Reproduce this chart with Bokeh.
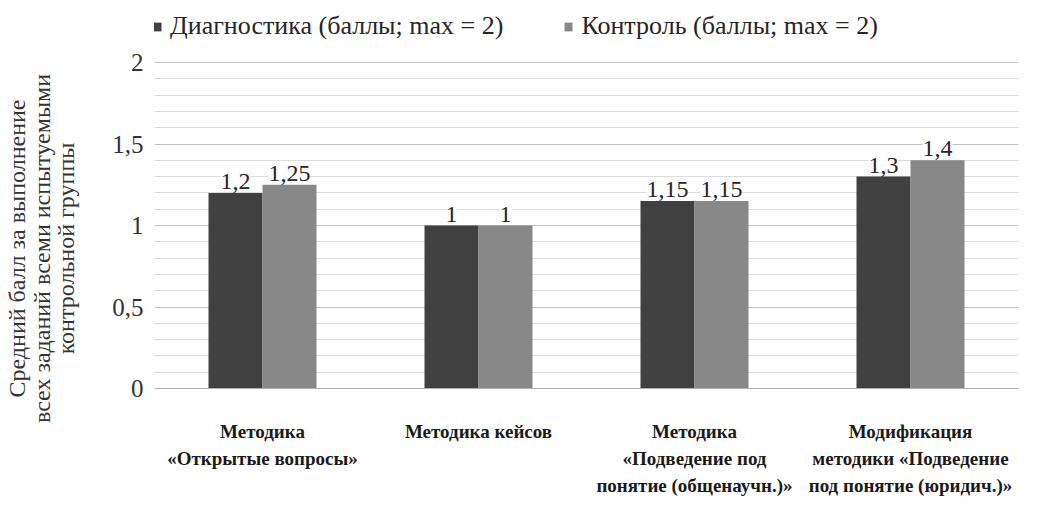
from bokeh.plotting import figure
from bokeh.models import (ColumnDataSource, Range1d, FixedTicker, LabelSet, Span,
                          Legend, LegendItem)
from bokeh.embed import file_html
from bokeh.resources import INLINE

categories = [
    "Методика\n«Открытые вопросы»",
    "Методика кейсов",
    "Методика\n«Подведение под\nпонятие (общенаучн.)»",
    "Модификация\nметодики «Подведение\nпод понятие (юридич.)»",
]
diag = [1.2, 1.0, 1.15, 1.3]
ctrl = [1.25, 1.0, 1.15, 1.4]
diag_labels = ["1,2", "1", "1,15", "1,3"]
ctrl_labels = ["1,25", "1", "1,15", "1,4"]
y_ticks = [0, 0.5, 1, 1.5, 2]
y_tick_labels = ["0", "0,5", "1", "1,5", "2"]
series_names = ["Диагностика (баллы; max = 2)", "Контроль (баллы; max = 2)"]

FONT = "Liberation Serif"
DARK = "#404040"
LIGHT = "#888888"
BW = 0.25
H = 496
PX_PER_UNIT = 163.0
Y_TOP = 2 + 62 / PX_PER_UNIT          # room for the legend above the value 2
Y_BOTTOM = -(H - 62 - 2 * PX_PER_UNIT) / PX_PER_UNIT  # room for category labels

centers = [i + 0.5 for i in range(len(categories))]
src = ColumnDataSource(dict(x=centers,
                            xd=[c - BW / 2 for c in centers],
                            xc=[c + BW / 2 for c in centers],
                            diag=diag, ctrl=ctrl, dl=diag_labels, cl=ctrl_labels))

p = figure(x_range=Range1d(0, len(categories)), y_range=Range1d(Y_BOTTOM, Y_TOP),
           width=1036, height=H, output_backend="svg", toolbar_location=None)
p.min_border_left = 138
p.min_border_right = 18
p.min_border_top = 0
p.min_border_bottom = 0
p.outline_line_color = None

r1 = p.vbar(x="xd", top="diag", width=BW, source=src, fill_color=DARK, line_color=None)
r2 = p.vbar(x="xc", top="ctrl", width=BW, source=src, fill_color=LIGHT, line_color=None)

for xcol, ycol, tcol in (("xd", "diag", "dl"), ("xc", "ctrl", "cl")):
    p.add_layout(LabelSet(x=xcol, y=ycol, text=tcol, source=src,
                          text_align="center", text_baseline="bottom", y_offset=4,
                          text_font=FONT, text_font_size="24px", text_color="#262626",
                          background_fill_color="white"))

# category labels under the axis, one LabelSet per text line so each line is centred
n_lines = max(len(c.split("\n")) for c in categories)
for j in range(n_lines):
    xs, ts = [], []
    for c, name in zip(centers, categories):
        parts = name.split("\n")
        if j < len(parts):
            xs.append(c)
            ts.append(parts[j])
    lsrc = ColumnDataSource(dict(x=xs, y=[0] * len(xs), t=ts))
    p.add_layout(LabelSet(x="x", y="y", text="t", source=lsrc,
                          text_align="center", text_baseline="top", y_offset=-(32 + 27 * j),
                          text_font=FONT, text_font_size="19px", text_font_style="bold",
                          text_color="#1a1a1a"))

p.add_layout(Span(location=0, dimension="width", line_color="#b0b0b0", line_width=1))

p.xaxis.visible = False
p.yaxis.ticker = FixedTicker(ticks=y_ticks, minor_ticks=[i / 10 for i in range(21)])
p.yaxis.major_label_overrides = {t: l for t, l in zip(y_ticks, y_tick_labels)}
p.yaxis.major_label_text_font = FONT
p.yaxis.major_label_text_font_size = "25px"
p.yaxis.major_label_text_color = "#333333"
p.yaxis.axis_line_color = None
p.yaxis.major_tick_line_color = None
p.yaxis.minor_tick_line_color = None
p.yaxis.major_label_standoff = 5
p.yaxis.axis_label = "Средний балл за выполнение\nвсех заданий всеми испытуемыми\nконтрольной группы"
p.yaxis.axis_label_text_font = FONT
p.yaxis.axis_label_text_font_size = "24px"
p.yaxis.axis_label_text_font_style = "normal"
p.yaxis.axis_label_text_color = "#333333"
p.yaxis.axis_label_text_line_height = 0.95
p.yaxis.axis_label_standoff = 30

p.xgrid.grid_line_color = None
p.ygrid.grid_line_color = "#c0c0c0"
p.ygrid.minor_grid_line_color = "#dcdcdc"

legend = Legend(items=[LegendItem(label=series_names[0], renderers=[r1]),
                       LegendItem(label=series_names[1], renderers=[r2])],
                orientation="horizontal", location=(-2, H - 41),
                label_text_font=FONT, label_text_font_size="26px", label_text_color="#262626",
                glyph_width=10, glyph_height=11, spacing=60, label_standoff=8,
                border_line_color=None, background_fill_alpha=0, padding=3, margin=0)
p.add_layout(legend, "center")

open("out.html", "w").write(file_html(p, INLINE))
